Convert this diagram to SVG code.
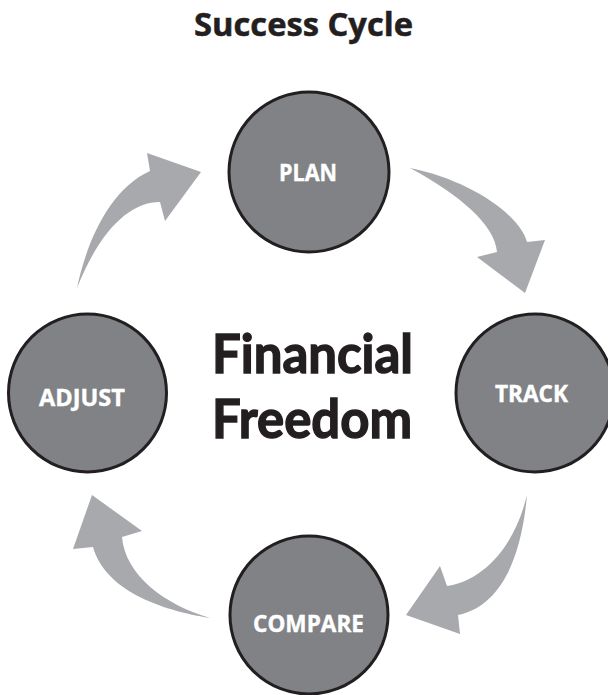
<svg xmlns="http://www.w3.org/2000/svg" width="608" height="695" viewBox="0 0 608 695">
<style>
.node{fill:#808285;stroke:#231f20;stroke-width:3}
.lbl{font-family:"Open Sans","Liberation Sans",sans-serif;font-weight:bold;font-size:22.5px;fill:#ffffff;stroke:#ffffff;stroke-width:0.4}
.arrow{fill:#a7a9ac;stroke:none}
.title{font-family:"Open Sans","Liberation Sans",sans-serif;font-weight:bold;font-size:32px;fill:#231f20;stroke:#231f20;stroke-width:0.5}
.center{font-family:Lato,"Open Sans",sans-serif;font-weight:bold;font-size:53px;fill:#231f20;stroke:#231f20;stroke-width:1.4}
</style>
<rect width="608" height="695" fill="#ffffff"/>
<text class="title" x="194" y="36" textLength="219" lengthAdjust="spacingAndGlyphs">Success Cycle</text>
<g id="connectors">
<path class="arrow" d="M410,168 C470,180 520,215 527,242 L545,240 L525,293 L477,257 L497,252 C495,225 460,195 410,168 Z"/>
<path class="arrow" d="M527,495 C522,550 505,605 458,615 L460,634 L406,615 L440,566 L447,586 C485,580 515,545 527,495 Z"/>
<path class="arrow" d="M210,618 C160,610 105,590 93,547 L73,549 L92,495 L142,531 L122,537 C125,575 165,605 210,618 Z"/>
<path class="arrow" d="M77,288 C86,245 108,190 150,171 L147,153 L201,172 L165,221 L160,202 C130,202 100,230 77,288 Z"/>
</g>
<g id="center">
<text class="center" x="212" y="373" textLength="201" lengthAdjust="spacingAndGlyphs">Financial</text>
<text class="center" x="212" y="438" textLength="200" lengthAdjust="spacingAndGlyphs">Freedom</text>
</g>
<g id="plan">
<circle class="node" cx="309" cy="172" r="80"/>
<text class="lbl" x="279" y="181" textLength="58" lengthAdjust="spacingAndGlyphs">PLAN</text>
</g>
<g id="track">
<circle class="node" cx="535" cy="393" r="79"/>
<text class="lbl" x="495" y="402" textLength="73" lengthAdjust="spacingAndGlyphs">TRACK</text>
</g>
<g id="compare">
<circle class="node" cx="309" cy="615" r="79"/>
<text class="lbl" x="253" y="632" textLength="111" lengthAdjust="spacingAndGlyphs">COMPARE</text>
</g>
<g id="adjust">
<circle class="node" cx="87.5" cy="393" r="79"/>
<text class="lbl" x="39" y="406" textLength="86" lengthAdjust="spacingAndGlyphs">ADJUST</text>
</g>
</svg>
